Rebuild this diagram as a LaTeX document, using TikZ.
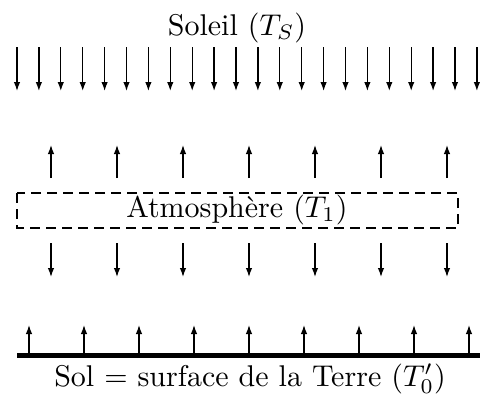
\documentclass[tikz,border=0pt]{standalone}
\usetikzlibrary{arrows.meta}
\begin{document}
\begin{tikzpicture}[x=1pt,y=-1pt,
  ray/.style={line width=1.3pt,-{Latex[length=9pt,width=6.5pt]}},
  lbl/.style={inner sep=0pt,anchor=base,scale=3.0,transform shape,font=\fontsize{10}{12}\selectfont},
  atmbox/.style={draw,line width=1.2pt,dash pattern=on 10pt off 6pt}]
\useasboundingbox (0,0) rectangle (480,397);
\node[lbl] (soleil) at (237,35) {Soleil ($T_S$)};
\foreach \i in {0,...,21}{
  \draw[ray] ({17+21.9*\i},47) -- ({17+21.9*\i},91);
}
\foreach \i in {0,...,6}{
  \draw[ray] ({51+66*\i},178) -- ({51+66*\i},145);
  \draw[ray] ({51+66*\i},243) -- ({51+66*\i},277);
}
\draw[atmbox] (17,193) rectangle (458,228);
\node[lbl] (atm) at (237,217) {Atmosphère ($T_1$)};
\foreach \i in {0,...,8}{
  \draw[ray] ({29+55*\i},353) -- ({29+55*\i},325);
}
\draw[line width=5pt] (17,355) -- (480,355);
\node[lbl] (sol) at (250,386) {Sol = surface de la Terre ($T'_0$)};
\end{tikzpicture}
\end{document}
